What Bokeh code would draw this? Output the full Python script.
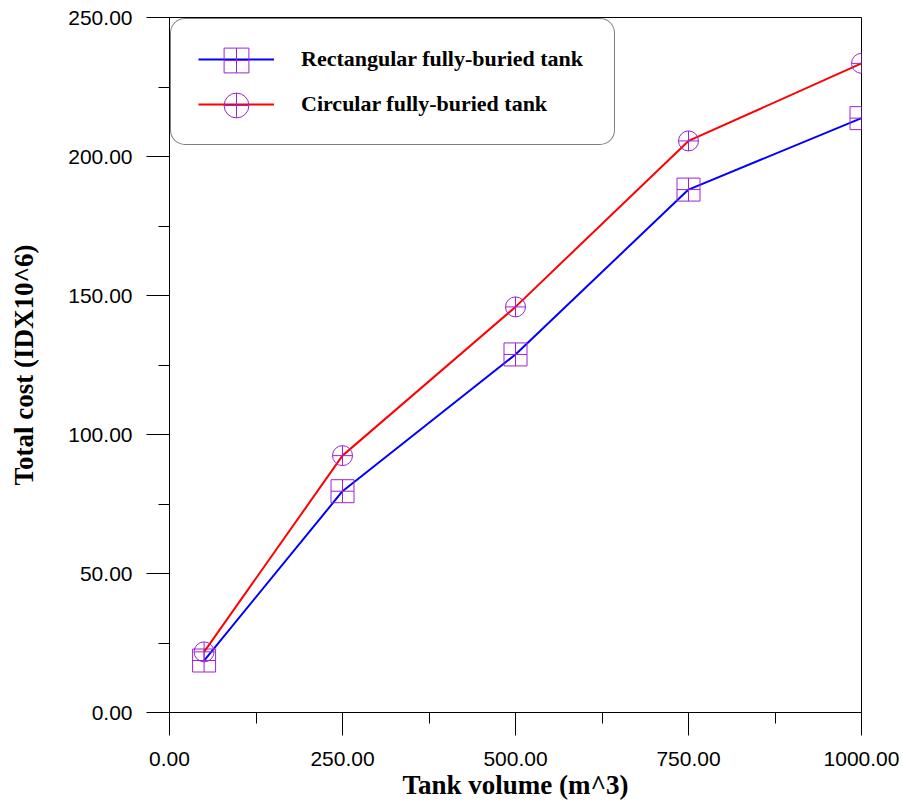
from bokeh.plotting import figure
from bokeh.models import (FixedTicker, Legend, LegendItem, NumeralTickFormatter,
                          Range1d)
from bokeh.embed import file_html
from bokeh.resources import INLINE

# ---- data ----
volume = [50, 250, 500, 750, 1000]
rect_cost = [18.7, 79.6, 128.8, 188.1, 213.8]
circ_cost = [21.8, 92.4, 145.9, 205.6, 233.5]
x_ticks = [0, 250, 500, 750, 1000]
x_minor = [125, 375, 625, 875]
y_ticks = [0, 50, 100, 150, 200, 250]
y_minor = [25, 75, 125, 175, 225]
series_names = ["Rectangular fully-buried tank", "Circular fully-buried tank"]

PURPLE = "#9a24d4"

p = figure(width=903, height=805, output_backend="svg",
           toolbar_location=None,
           x_range=Range1d(0, 1000), y_range=Range1d(0, 250),
           min_border_left=169, min_border_right=42, min_border_top=17,
           min_border_bottom=93)

p.xgrid.visible = False
p.ygrid.visible = False
p.outline_line_color = "black"
p.outline_line_width = 1

# axes
for ax in (p.xaxis[0], p.yaxis[0]):
    ax.axis_line_color = "black"
    ax.axis_line_width = 1
    ax.major_tick_in = 0
    ax.major_tick_out = 23
    ax.minor_tick_in = 0
    ax.minor_tick_out = 11
    ax.major_tick_line_color = "black"
    ax.minor_tick_line_color = "black"
    ax.major_label_text_font = "Liberation Sans"
    ax.major_label_text_font_size = "21px"
    ax.major_label_text_color = "black"
    ax.axis_label_text_font = "Liberation Serif"
    ax.axis_label_text_font_style = "bold"
    ax.axis_label_text_font_size = "27px"
    ax.axis_label_text_color = "black"
    ax.formatter = NumeralTickFormatter(format="0.00")

p.xaxis[0].ticker = FixedTicker(ticks=x_ticks, minor_ticks=x_minor)
p.yaxis[0].ticker = FixedTicker(ticks=y_ticks, minor_ticks=y_minor)
p.xaxis[0].axis_label = "Tank volume (m^3)"
p.yaxis[0].axis_label = "Total cost (IDX10^6)"
p.xaxis[0].major_label_standoff = 16
p.xaxis[0].axis_label_standoff = 1
p.yaxis[0].major_label_standoff = 14
p.yaxis[0].axis_label_standoff = 26

# series
l1 = p.line(volume, rect_cost, line_color="#0000ff", line_width=2)
m1 = p.scatter(volume, rect_cost, marker="square_cross", size=23,
               fill_color=None, line_color=PURPLE, line_width=1)
l2 = p.line(volume, circ_cost, line_color="#ff0000", line_width=2)
m2 = p.scatter(volume, circ_cost, marker="circle_cross", size=20,
               fill_color=None, line_color=PURPLE, line_width=1)

# main legend box: lines + labels
legend = Legend(items=[LegendItem(label=series_names[0], renderers=[l1]),
                       LegendItem(label=series_names[1], renderers=[l2])],
                location=(1, 567))
legend.glyph_width = 76
legend.glyph_height = 26
legend.label_height = 26
legend.label_width = 286
legend.label_standoff = 27
legend.padding = 27
legend.spacing = 19
legend.margin = 0
legend.label_text_font = "Liberation Serif"
legend.label_text_font_style = "bold"
legend.label_text_font_size = "22px"
legend.label_text_color = "black"
legend.label_text_baseline = "middle"
legend.border_line_color = "black"
legend.border_line_width = 1
legend.background_fill_color = "white"
legend.background_fill_alpha = 1
if "border_radius" in Legend.properties():
    legend.border_radius = 15
p.add_layout(legend, "center")

# larger legend markers, overlaid on the line glyphs
for rend, loc in ((m1, (36, 621)), (m2, (36, 576))):
    lg = Legend(items=[LegendItem(label="", renderers=[rend])], location=loc)
    lg.glyph_width = 62
    lg.glyph_height = 62
    lg.label_width = 0
    lg.label_height = 0
    lg.label_standoff = 0
    lg.padding = 0
    lg.spacing = 0
    lg.margin = 0
    lg.border_line_color = None
    lg.background_fill_alpha = 0
    p.add_layout(lg, "center")

open("out.html", "w").write(file_html(p, INLINE))
